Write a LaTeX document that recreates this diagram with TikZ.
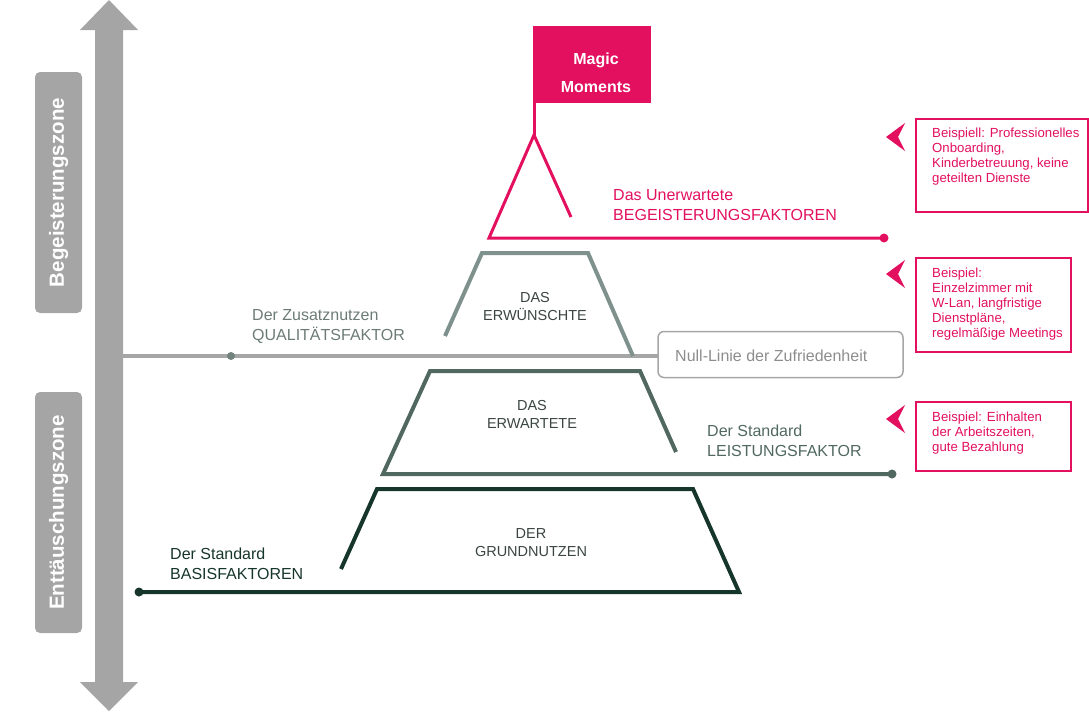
\documentclass[tikz,border=0pt]{standalone}
\usepackage{fontspec}
\setmainfont{Liberation Sans}
\usetikzlibrary{positioning}
\definecolor{begeistert}{HTML}{E2105E}
\definecolor{qualitaet}{HTML}{7F918C}
\definecolor{leistung}{HTML}{506860}
\definecolor{basis}{HTML}{17362B}
\definecolor{pfeilgrau}{HTML}{A5A5A5}
\definecolor{nullgrau}{HTML}{A6A6A6}
\definecolor{schrift}{HTML}{3A4540}

\begin{document}
\begin{tikzpicture}[x=1pt, y=-1pt,
    lbl/.style={anchor=west, align=left, inner sep=0pt, font=\fontsize{16}{20}\selectfont},
    stufe/.style={align=center, inner sep=0pt, text=schrift, font=\fontsize{14.5}{18}\selectfont},
    bsp/.style={anchor=north west, align=left, inner sep=0pt, text=begeistert, font=\fontsize{13.2}{15}\selectfont},
    bspbox/.style={draw=begeistert, line width=1.5pt},
    zone/.style={rotate=90, fill=pfeilgrau, text=white, rounded corners=5pt,
      minimum width=241pt, minimum height=47pt, inner sep=0pt,
      font=\fontsize{20.5}{24}\selectfont\bfseries}]
  \useasboundingbox (0,0) rectangle (1089,712);

  % Achse mit Doppelpfeil
  \fill[pfeilgrau] (95,30) -- (80,30) -- (109,0) -- (138,30) -- (123,30)
    -- (123,682) -- (138,682) -- (109,711) -- (80,682) -- (95,682) -- cycle;
  \node[zone] (begzone) at (58.5,192.5) {Begeisterungszone};
  \node[zone] (entzone) at (58.5,512.5) {Enttäuschungszone};

  % Magic Moments
  \node[fill=begeistert, minimum width=118pt, minimum height=77pt] (flag) at (592,64.5) {};
  \node[text=white, align=center, inner sep=0pt, font=\fontsize{16}{28}\selectfont\bfseries]
    (magic) at (596,73) {Magic\\Moments};
  \coordinate (spitze) at (534,135);
  \draw[begeistert, line width=3pt] (534,102) -- (spitze);
  \draw[begeistert, line width=3pt] (571,217) -- (spitze) -- (489,238) -- (884,238);
  \fill[begeistert] (884,238) circle (4.5pt);
  \node[lbl, text=begeistert] (unerwartet) at (613,205) {Das Unerwartete\\BEGEISTERUNGSFAKTOREN};

  % Null-Linie
  \draw[nullgrau, line width=4pt] (123,356) -- (658,356);
  \fill[qualitaet!90!black] (231,356) circle (4pt);
  \node[draw=nullgrau, line width=1.5pt, rounded corners=6pt, minimum width=245pt,
    minimum height=46pt] (nullbox) at (780.5,354.5) {};
  \node[anchor=west, inner sep=0pt, text=nullgrau!85!black, font=\fontsize{16}{20}\selectfont]
    (nulltext) at (675,356) {Null-Linie der Zufriedenheit};

  % Das Erwuenschte
  \draw[qualitaet, line width=4pt] (445,336) -- (482,253) -- (588,253) -- (633,356);
  \node[stufe] (erwuenscht) at (535,307) {DAS\\ERWÜNSCHTE};
  \node[lbl, text=qualitaet!85!black] (qualitaet) at (252,327) {Der Zusatznutzen\\QUALITÄTSFAKTOR};

  % Das Erwartete
  \draw[leistung, line width=4pt] (676,452) -- (640,371) -- (430,371) -- (383,474) -- (892,474);
  \fill[leistung] (892,474) circle (4.5pt);
  \node[stufe] (erwartet) at (532,414) {DAS\\ERWARTETE};
  \node[lbl, text=leistung] (leistung) at (707,441) {Der Standard\\LEISTUNGSFAKTOR};

  % Der Grundnutzen
  \draw[basis, line width=4pt] (341,569) -- (377,489) -- (693,489) -- (739,592) -- (139,592);
  \fill[basis] (139,592) circle (4.5pt);
  \node[stufe] (grund) at (531,543) {DER\\GRUNDNUTZEN};
  \node[lbl, text=basis] (basis) at (170,563.5) {Der Standard\\BASISFAKTOREN};

  % Beispiele
  \draw[bspbox] (916,119) rectangle (1088,212);
  \draw[bspbox] (916,258) rectangle (1071,352);
  \draw[bspbox] (916,402) rectangle (1071,471);
  \foreach \y in {137,274,419}
    \fill[begeistert] (886,\y) -- (905,\y-14) -- (898,\y) -- (905,\y+14) -- cycle;
  \node[bsp] (bsp1) at (932,128) {Beispiell: Professionelles\\Onboarding,\\Kinderbetreuung, keine\\geteilten Dienste};
  \node[bsp] (bsp2) at (932,268) {Beispiel:\\Einzelzimmer mit\\W-Lan, langfristige\\Dienstpläne,\\regelmäßige Meetings};
  \node[bsp] (bsp3) at (932,412) {Beispiel: Einhalten\\der Arbeitszeiten,\\gute Bezahlung};
\end{tikzpicture}
\end{document}
